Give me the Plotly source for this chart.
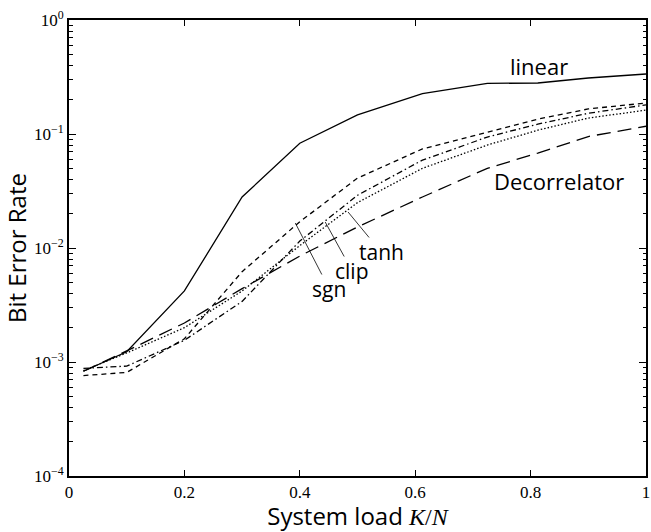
import plotly.graph_objects as go

# ---- data ----
load = [0.025, 0.1, 0.2, 0.3, 0.4, 0.5, 0.6125, 0.725, 0.8125, 0.9, 1.0]
ber_linear = [8.3e-4, 1.23e-3, 4.2e-3, 2.8e-2, 8.3e-2, 0.147, 0.226, 0.278, 0.28, 0.31, 0.336]
ber_decorrelator = [8.3e-4, 1.25e-3, 2.2e-3, 4.4e-3, 8.5e-3, 0.0153, 0.028, 0.05, 0.068, 0.095, 0.117]
ber_sgn = [7.6e-4, 8.1e-4, 1.6e-3, 6.2e-3, 0.017, 0.041, 0.074, 0.103, 0.135, 0.166, 0.187]
ber_clip = [8.8e-4, 9.2e-4, 1.55e-3, 3.4e-3, 0.0115, 0.029, 0.059, 0.094, 0.122, 0.152, 0.18]
ber_tanh = [8.4e-4, 1.2e-3, 2.0e-3, 4.2e-3, 0.0105, 0.025, 0.05, 0.08, 0.108, 0.138, 0.162]

x_ticks = [0, 0.2, 0.4, 0.6, 0.8, 1]
x_ticktext = ["0", "0.2", "0.4", "0.6", "0.8", "1"]
y_ticks = [1e-4, 1e-3, 1e-2, 1e-1, 1]
y_ticktext = ["10<sup>\u22124</sup>", "10<sup>\u22123</sup>", "10<sup>\u22122</sup>",
              "10<sup>\u22121</sup>", "10<sup>0</sup>"]
y_minor = [k * 10.0 ** e for e in range(-4, 0) for k in range(2, 10)]

series = [
    ("linear", ber_linear, "solid"),
    ("Decorrelator", ber_decorrelator, "14px,7px"),
    ("sgn", ber_sgn, "5px,4px"),
    ("clip", ber_clip, "6px,3px,1.5px,3px"),
    ("tanh", ber_tanh, "1.5px,2px"),
]

fig = go.Figure()
for name, vals, dash in series:
    fig.add_trace(go.Scatter(x=load, y=vals, mode="lines", name=name,
                             line=dict(color="black", width=1.3, dash=dash)))

ann_font = dict(family="Open Sans", size=22, color="black")
small_font = dict(family="Open Sans", size=21, color="black")
fig.add_annotation(x=0.815, y=-0.40, text="linear", showarrow=False, font=ann_font)
fig.add_annotation(x=0.85, y=-1.41, text="Decorrelator", showarrow=False, font=ann_font)
# labels with leader lines
for txt, xx, yy, axp, ayp in [("sgn", 0.3922, -1.781, 34, 66),
                              ("clip", 0.444, -1.772, 27, 49),
                              ("tanh", 0.4836, -1.684, 33, 40)]:
    fig.add_annotation(x=xx, y=yy, text=txt, showarrow=True, arrowhead=0,
                       arrowwidth=0.8, arrowcolor="black", ax=axp, ay=ayp,
                       font=small_font, borderpad=0)

axis_common = dict(showline=True, linecolor="black", linewidth=2, mirror="allticks",
                   ticks="inside", tickcolor="black", tickwidth=1, showgrid=False,
                   zeroline=False, ticklabeloverflow="allow",
                   tickfont=dict(family="Liberation Serif", size=17, color="black"))

fig.update_xaxes(range=[0, 1], tickmode="array", tickvals=x_ticks, ticktext=x_ticktext,
                 ticklen=6,
                 title=dict(text="System load <span style=\"font-family:'Liberation Serif'\"><i>K</i>/<i>N</i></span>",
                            font=dict(family="Open Sans", size=24, color="black"), standoff=7),
                 **axis_common)
fig.update_yaxes(type="log", range=[-4, 0], tickmode="array", tickvals=y_ticks,
                 ticktext=y_ticktext, ticklen=7,
                 minor=dict(tickmode="array", tickvals=y_minor, ticks="inside",
                            ticklen=3.5, tickcolor="black", tickwidth=1, showgrid=False),
                 title=dict(text="Bit Error Rate",
                            font=dict(family="Open Sans", size=24, color="black"), standoff=4),
                 **axis_common)

fig.update_layout(width=651, height=532, margin=dict(l=69, r=1, t=20, b=56),
                  plot_bgcolor="white", paper_bgcolor="white", showlegend=False)

fig.write_html("out.html")
